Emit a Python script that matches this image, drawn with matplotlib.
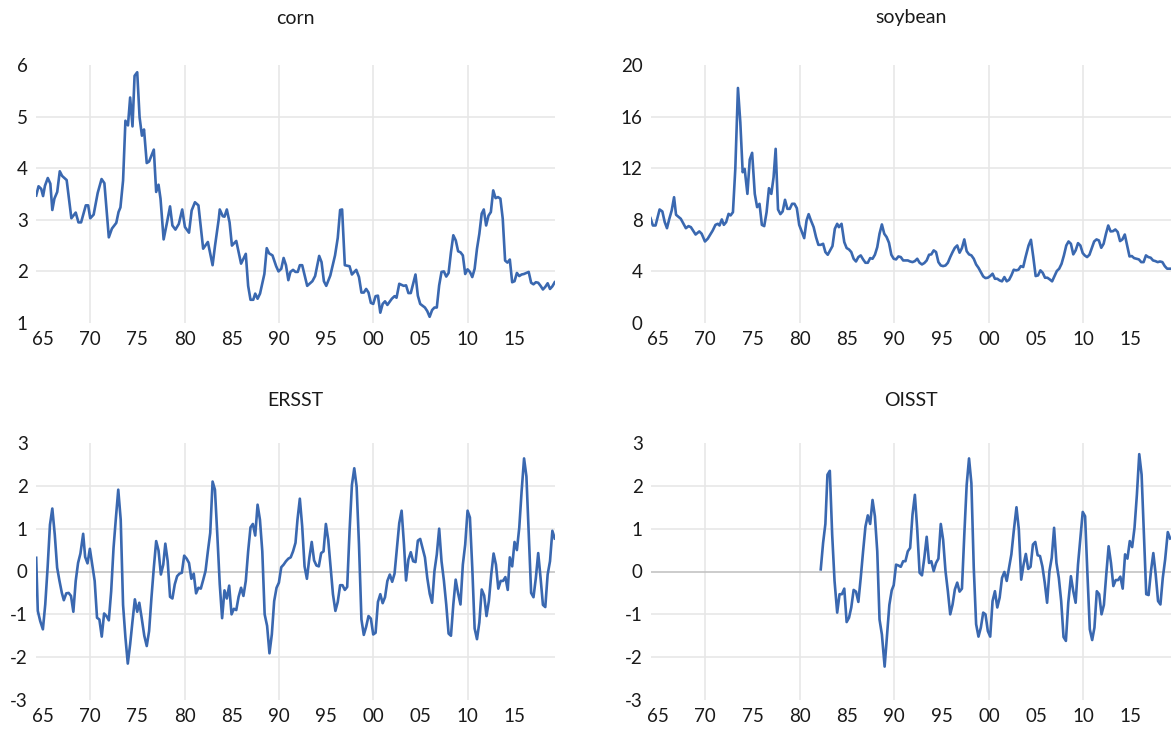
import matplotlib
matplotlib.use('Agg')
import matplotlib.pyplot as plt

plt.rcParams['font.family'] = ['Lato', 'DejaVu Sans']

# series (year, value)
corn_year = [1964.27, 1964.52, 1964.8, 1965.0, 1965.2, 1965.5, 1965.77, 1965.98, 1966.2, 1966.5,
             1966.77, 1967.02, 1967.5, 1968.0, 1968.46, 1968.75, 1969.03, 1969.53, 1969.78, 1970.0,
             1970.36, 1970.79, 1971.2, 1971.5, 1971.97, 1972.3, 1972.76, 1973.0, 1973.2, 1973.48,
             1973.73, 1974.0, 1974.23, 1974.48, 1974.7, 1974.98, 1975.23, 1975.48, 1975.7, 1975.99,
             1976.24, 1976.74, 1976.99, 1977.24, 1977.45, 1977.78, 1978.14, 1978.46, 1978.71, 1979.03,
             1979.39, 1979.75, 1980.04, 1980.47, 1980.75, 1981.1, 1981.47, 1981.97, 1982.47, 1982.97,
             1983.23, 1983.62, 1983.73, 1984.05, 1984.23, 1984.48, 1984.77, 1985.02, 1985.48, 1985.99,
             1986.49, 1986.74, 1986.99, 1987.28, 1987.49, 1987.74, 1988.0, 1988.46, 1988.71, 1988.96,
             1989.32, 1989.71, 1989.96, 1990.25, 1990.5, 1990.75, 1991.0, 1991.22, 1991.5, 1991.76,
             1992.0, 1992.22, 1992.47, 1993.0, 1993.55, 1993.84, 1994.27, 1994.52, 1994.77, 1995.02,
             1995.45, 1995.95, 1996.24, 1996.49, 1996.7, 1996.99, 1997.49, 1997.74, 1998.2, 1998.49,
             1998.75, 1999.0, 1999.25, 1999.5, 1999.75, 2000.0, 2000.25, 2000.5, 2000.75, 2001.0,
             2001.25, 2001.5, 2001.97, 2002.26, 2002.47, 2002.76, 2003.23, 2003.48, 2003.73, 2003.98,
             2004.48, 2004.73, 2004.98, 2005.48, 2005.73, 2005.98, 2006.24, 2006.49, 2006.74, 2006.99,
             2007.24, 2007.49, 2007.74, 2007.99, 2008.24, 2008.49, 2008.75, 2009.0, 2009.25, 2009.5,
             2009.75, 2010.0, 2010.25, 2010.5, 2010.75, 2011.0, 2011.25, 2011.5, 2011.72, 2011.97,
             2012.22, 2012.47, 2012.72, 2012.97, 2013.23, 2013.48, 2013.73, 2013.98, 2014.23, 2014.48,
             2014.73, 2014.98, 2015.23, 2015.48, 2015.73, 2015.98, 2016.23, 2016.48, 2016.74, 2016.99,
             2017.24, 2017.49, 2017.74, 2017.99, 2018.24, 2018.49, 2018.74, 2018.99, 2019.24]
corn_value = [3.47, 3.65, 3.60, 3.46, 3.66, 3.81, 3.70, 3.19, 3.41, 3.54,
              3.94, 3.85, 3.77, 3.03, 3.14, 2.95, 2.95, 3.28, 3.28, 3.03,
              3.10, 3.52, 3.79, 3.71, 2.66, 2.83, 2.94, 3.15, 3.24, 3.76,
              4.92, 4.83, 5.37, 4.81, 5.79, 5.86, 4.99, 4.63, 4.75, 4.10,
              4.13, 4.36, 3.54, 3.68, 3.41, 2.62, 2.95, 3.26, 2.89, 2.81,
              2.92, 3.20, 2.86, 2.75, 3.18, 3.34, 3.28, 2.44, 2.57, 2.12,
              2.50, 3.01, 3.20, 3.07, 3.06, 3.20, 2.95, 2.50, 2.59, 2.15,
              2.34, 1.72, 1.45, 1.45, 1.57, 1.47, 1.57, 1.95, 2.45, 2.35,
              2.31, 2.10, 2.00, 2.05, 2.26, 2.12, 1.83, 1.99, 2.03, 1.99,
              1.99, 2.12, 2.12, 1.72, 1.81, 1.91, 2.30, 2.18, 1.81, 1.72,
              1.92, 2.31, 2.65, 3.19, 3.20, 2.12, 2.10, 1.94, 2.03, 1.89,
              1.59, 1.59, 1.66, 1.59, 1.39, 1.37, 1.52, 1.53, 1.20, 1.37,
              1.42, 1.35, 1.47, 1.52, 1.49, 1.76, 1.72, 1.73, 1.58, 1.58,
              1.94, 1.53, 1.37, 1.30, 1.23, 1.12, 1.25, 1.30, 1.30, 1.73,
              1.99, 2.00, 1.90, 1.97, 2.37, 2.70, 2.60, 2.39, 2.37, 2.31,
              1.95, 2.04, 1.99, 1.89, 2.05, 2.44, 2.73, 3.12, 3.20, 2.89,
              3.08, 3.15, 3.57, 3.42, 3.44, 3.41, 3.02, 2.21, 2.17, 2.23,
              1.79, 1.81, 1.97, 1.91, 1.94, 1.95, 1.97, 1.99, 1.78, 1.75,
              1.79, 1.78, 1.72, 1.65, 1.70, 1.77, 1.66, 1.71, 1.79]

soy_year = [1964.2, 1964.45, 1964.73, 1965.16, 1965.45, 1965.7, 1965.94, 1966.19, 1966.44, 1966.69,
            1966.9, 1967.4, 1967.94, 1968.22, 1968.47, 1968.97, 1969.36, 1969.61, 1969.96, 1970.25,
            1970.78, 1971.07, 1971.32, 1971.5, 1971.74, 1971.96, 1972.2, 1972.46, 1972.67, 1972.92,
            1973.17, 1973.45, 1973.7, 1973.95, 1974.16, 1974.45, 1974.7, 1974.95, 1975.23, 1975.48,
            1975.73, 1975.98, 1976.23, 1976.48, 1976.73, 1976.98, 1977.22, 1977.44, 1977.69, 1977.94,
            1978.18, 1978.43, 1978.68, 1978.93, 1979.18, 1979.43, 1979.68, 1979.93, 1980.18, 1980.46,
            1980.71, 1980.93, 1981.17, 1981.46, 1981.71, 1981.96, 1982.21, 1982.46, 1982.7, 1982.95,
            1983.2, 1983.45, 1983.7, 1983.95, 1984.13, 1984.41, 1984.7, 1984.95, 1985.2, 1985.44,
            1985.69, 1985.94, 1986.19, 1986.44, 1986.69, 1986.94, 1987.19, 1987.44, 1987.69, 1987.94,
            1988.19, 1988.43, 1988.68, 1988.93, 1989.18, 1989.43, 1989.68, 1989.93, 1990.18, 1990.43,
            1990.68, 1990.93, 1991.17, 1991.42, 1991.67, 1991.92, 1992.17, 1992.42, 1992.67, 1992.92,
            1993.17, 1993.42, 1993.67, 1993.91, 1994.16, 1994.41, 1994.66, 1994.91, 1995.16, 1995.41,
            1995.66, 1995.91, 1996.16, 1996.4, 1996.65, 1996.9, 1997.15, 1997.4, 1997.65, 1997.9,
            1998.15, 1998.4, 1998.65, 1998.9, 1999.15, 1999.4, 1999.64, 1999.89, 2000.14, 2000.39,
            2000.64, 2000.89, 2001.14, 2001.39, 2001.64, 2001.89, 2002.14, 2002.38, 2002.63, 2002.88,
            2003.13, 2003.38, 2003.63, 2003.88, 2004.2, 2004.45, 2004.7, 2004.95, 2005.2, 2005.45,
            2005.69, 2005.94, 2006.19, 2006.44, 2006.69, 2006.94, 2007.19, 2007.44, 2007.69, 2007.94,
            2008.19, 2008.43, 2008.68, 2008.93, 2009.18, 2009.43, 2009.68, 2009.93, 2010.14, 2010.39,
            2010.64, 2010.89, 2011.14, 2011.39, 2011.64, 2011.89, 2012.14, 2012.39, 2012.63, 2012.88,
            2013.13, 2013.38, 2013.63, 2013.88, 2014.13, 2014.38, 2014.63, 2014.88, 2015.12, 2015.37,
            2015.62, 2015.87, 2016.12, 2016.37, 2016.62, 2016.87, 2017.12, 2017.37, 2017.61, 2017.86,
            2018.11, 2018.36, 2018.61, 2018.86, 2019.15]
soy_value = [8.13, 7.56, 7.56, 8.80, 8.65, 7.83, 7.35, 8.08, 8.72, 9.75,
             8.39, 8.08, 7.35, 7.51, 7.43, 6.86, 7.10, 6.92, 6.32, 6.53,
             7.17, 7.61, 7.69, 7.56, 8.03, 7.61, 7.82, 8.46, 8.34, 8.59,
             11.95, 18.22, 15.56, 11.69, 11.95, 10.01, 12.67, 13.19, 10.01, 8.98,
             9.24, 7.61, 7.51, 8.59, 10.45, 10.01, 11.30, 13.50, 8.80, 8.44,
             8.65, 9.55, 8.85, 8.85, 9.24, 9.24, 8.90, 7.61, 7.12, 6.58,
             7.95, 8.44, 7.95, 7.43, 6.66, 6.06, 6.06, 6.14, 5.50, 5.29,
             5.63, 5.96, 7.30, 7.69, 7.43, 7.69, 6.27, 5.81, 5.70, 5.50,
             4.98, 4.77, 5.11, 5.24, 4.93, 4.67, 4.67, 5.03, 4.98, 5.29,
             5.88, 6.92, 7.64, 6.92, 6.66, 6.22, 5.29, 4.98, 4.93, 5.16,
             5.11, 4.85, 4.85, 4.85, 4.77, 4.72, 4.80, 4.98, 4.67, 4.54,
             4.65, 4.85, 5.29, 5.32, 5.63, 5.50, 4.72, 4.46, 4.41, 4.46,
             4.67, 5.11, 5.50, 5.83, 6.01, 5.45, 5.81, 6.48, 5.57, 5.32,
             5.24, 4.98, 4.54, 4.28, 3.95, 3.61, 3.48, 3.51, 3.64, 3.82,
             3.43, 3.43, 3.30, 3.23, 3.56, 3.23, 3.35, 3.69, 4.13, 4.08,
             4.13, 4.41, 4.34, 5.11, 6.01, 6.45, 5.11, 3.64, 3.69, 4.08,
             3.90, 3.51, 3.51, 3.38, 3.23, 3.64, 4.03, 4.21, 4.59, 5.24,
             6.01, 6.32, 6.14, 5.32, 5.63, 6.19, 6.01, 5.42, 5.24, 5.11,
             5.29, 5.81, 6.32, 6.48, 6.40, 5.83, 6.14, 6.92, 7.56, 7.10,
             7.12, 7.25, 7.05, 6.35, 6.48, 6.86, 6.01, 5.16, 5.19, 5.03,
             4.98, 4.93, 4.72, 4.72, 5.24, 5.11, 5.06, 4.85, 4.80, 4.72,
             4.77, 4.72, 4.41, 4.21, 4.21]

ersst_year = [1964.27, 1964.44, 1964.7, 1964.98, 1965.23, 1965.48, 1965.73, 1965.98, 1966.24, 1966.49,
              1966.74, 1966.99, 1967.2, 1967.46, 1967.71, 1967.96, 1968.21, 1968.46, 1968.71, 1968.96,
              1969.25, 1969.46, 1969.71, 1969.96, 1970.22, 1970.47, 1970.72, 1970.97, 1971.22, 1971.47,
              1971.72, 1971.97, 1972.22, 1972.47, 1972.72, 1972.97, 1973.23, 1973.48, 1973.73, 1973.98,
              1974.23, 1974.48, 1974.73, 1974.98, 1975.2, 1975.45, 1975.73, 1975.99, 1976.24, 1976.49,
              1976.74, 1976.99, 1977.24, 1977.49, 1977.74, 1977.96, 1978.21, 1978.46, 1978.71, 1978.96,
              1979.21, 1979.46, 1979.71, 1979.96, 1980.22, 1980.47, 1980.72, 1980.97, 1981.22, 1981.47,
              1981.72, 1981.97, 1982.22, 1982.47, 1982.72, 1982.97, 1983.22, 1983.47, 1983.73, 1983.98,
              1984.23, 1984.48, 1984.73, 1984.98, 1985.23, 1985.48, 1985.73, 1985.99, 1986.24, 1986.49,
              1986.74, 1986.99, 1987.24, 1987.49, 1987.74, 1987.99, 1988.24, 1988.49, 1988.75, 1989.0,
              1989.25, 1989.5, 1989.75, 1990.0, 1990.25, 1990.5, 1990.75, 1991.0, 1991.25, 1991.5,
              1991.76, 1991.97, 1992.22, 1992.47, 1992.72, 1992.97, 1993.23, 1993.48, 1993.73, 1993.98,
              1994.23, 1994.48, 1994.73, 1994.98, 1995.23, 1995.48, 1995.73, 1995.99, 1996.24, 1996.49,
              1996.74, 1996.99, 1997.24, 1997.49, 1997.74, 1997.99, 1998.24, 1998.49, 1998.75, 1999.0,
              1999.25, 1999.5, 1999.75, 2000.0, 2000.25, 2000.5, 2000.75, 2001.0, 2001.25, 2001.5,
              2001.76, 2002.01, 2002.26, 2002.51, 2002.76, 2003.01, 2003.26, 2003.48, 2003.73, 2003.98,
              2004.23, 2004.48, 2004.73, 2004.98, 2005.23, 2005.48, 2005.73, 2005.99, 2006.24, 2006.49,
              2006.74, 2006.99, 2007.24, 2007.49, 2007.74, 2007.99, 2008.24, 2008.49, 2008.74, 2008.99,
              2009.25, 2009.5, 2009.75, 2010.0, 2010.25, 2010.5, 2010.75, 2011.0, 2011.25, 2011.5,
              2011.76, 2012.01, 2012.26, 2012.51, 2012.76, 2013.01, 2013.26, 2013.51, 2013.76, 2014.01,
              2014.26, 2014.48, 2014.73, 2014.98, 2015.23, 2015.48, 2015.73, 2015.99, 2016.24, 2016.49,
              2016.74, 2016.99, 2017.24, 2017.49, 2017.74, 2017.99, 2018.24, 2018.49, 2018.74, 2018.99,
              2019.24]
ersst_value = [0.32, -0.92, -1.16, -1.35, -0.77, 0.09, 1.09, 1.47, 0.86, 0.09,
               -0.22, -0.50, -0.67, -0.51, -0.50, -0.57, -0.94, -0.22, 0.20, 0.42,
               0.88, 0.34, 0.19, 0.53, 0.14, -0.22, -1.08, -1.12, -1.52, -0.98,
               -1.04, -1.14, -0.46, 0.55, 1.25, 1.91, 1.21, -0.78, -1.54, -2.15,
               -1.70, -1.16, -0.65, -0.94, -0.73, -1.08, -1.50, -1.74, -1.39, -0.61,
               0.09, 0.71, 0.49, -0.07, 0.16, 0.65, 0.24, -0.59, -0.63, -0.30,
               -0.11, -0.05, -0.03, 0.37, 0.30, 0.20, -0.17, -0.05, -0.51, -0.38,
               -0.40, -0.20, 0.01, 0.47, 0.90, 2.10, 1.91, 0.86, -0.30, -1.09,
               -0.44, -0.63, -0.33, -1.00, -0.87, -0.90, -0.59, -0.38, -0.57, -0.22,
               0.47, 1.03, 1.11, 0.84, 1.56, 1.21, 0.47, -1.00, -1.27, -1.91,
               -1.47, -0.69, -0.38, -0.26, 0.10, 0.16, 0.24, 0.30, 0.33, 0.47,
               0.67, 1.21, 1.70, 1.05, 0.12, -0.17, 0.32, 0.69, 0.26, 0.14,
               0.12, 0.43, 0.47, 1.11, 0.74, 0.09, -0.53, -0.92, -0.71, -0.32,
               -0.32, -0.43, -0.36, 0.94, 2.02, 2.41, 1.98, 0.63, -1.12, -1.48,
               -1.29, -1.04, -1.10, -1.47, -1.43, -0.71, -0.53, -0.74, -0.60, -0.22,
               -0.07, -0.24, -0.05, 0.55, 1.13, 1.42, 0.63, -0.21, 0.28, 0.45,
               0.24, 0.22, 0.72, 0.76, 0.55, 0.33, -0.15, -0.52, -0.73, 0.01,
               0.40, 1.00, 0.24, -0.21, -0.77, -1.45, -1.50, -0.77, -0.19, -0.50,
               -0.77, 0.16, 0.63, 1.42, 1.26, 0.09, -1.33, -1.58, -1.19, -0.42,
               -0.56, -1.04, -0.69, -0.07, 0.42, 0.16, -0.40, -0.22, -0.22, -0.13,
               -0.43, 0.33, 0.12, 0.69, 0.50, 1.02, 1.87, 2.64, 2.22, 0.86,
               -0.50, -0.60, -0.15, 0.43, -0.15, -0.78, -0.83, -0.07, 0.24, 0.95,
               0.77]

oisst_year = [1982.21, 1982.46, 1982.7, 1982.92, 1983.17, 1983.42, 1983.67, 1983.95, 1984.2, 1984.45,
              1984.7, 1984.95, 1985.2, 1985.44, 1985.69, 1985.94, 1986.19, 1986.44, 1986.69, 1986.94,
              1987.19, 1987.44, 1987.69, 1987.94, 1988.19, 1988.43, 1988.68, 1988.97, 1989.22, 1989.47,
              1989.72, 1989.93, 1990.18, 1990.43, 1990.68, 1990.93, 1991.17, 1991.42, 1991.67, 1991.92,
              1992.17, 1992.42, 1992.67, 1992.92, 1993.17, 1993.42, 1993.67, 1993.91, 1994.16, 1994.41,
              1994.66, 1994.91, 1995.16, 1995.41, 1995.66, 1995.91, 1996.16, 1996.4, 1996.65, 1996.9,
              1997.15, 1997.4, 1997.65, 1997.9, 1998.15, 1998.4, 1998.65, 1998.9, 1999.15, 1999.4,
              1999.64, 1999.89, 2000.14, 2000.39, 2000.64, 2000.89, 2001.14, 2001.39, 2001.64, 2001.89,
              2002.14, 2002.38, 2002.63, 2002.92, 2003.17, 2003.42, 2003.67, 2003.91, 2004.16, 2004.41,
              2004.66, 2004.91, 2005.16, 2005.41, 2005.66, 2005.91, 2006.16, 2006.41, 2006.65, 2006.9,
              2007.15, 2007.4, 2007.65, 2007.9, 2008.15, 2008.4, 2008.68, 2008.93, 2009.18, 2009.43,
              2009.68, 2009.93, 2010.18, 2010.43, 2010.68, 2010.93, 2011.17, 2011.42, 2011.67, 2011.92,
              2012.17, 2012.42, 2012.67, 2012.92, 2013.17, 2013.42, 2013.67, 2013.91, 2014.16, 2014.41,
              2014.66, 2014.91, 2015.16, 2015.41, 2015.66, 2015.91, 2016.16, 2016.41, 2016.65, 2016.9,
              2017.15, 2017.4, 2017.65, 2017.9, 2018.15, 2018.4, 2018.65, 2018.93, 2019.18]
oisst_value = [0.05, 0.67, 1.11, 2.26, 2.35, 0.86, -0.22, -0.96, -0.53, -0.53,
               -0.40, -1.18, -1.08, -0.84, -0.43, -0.47, -0.71, -0.15, 0.47, 1.05,
               1.31, 1.11, 1.67, 1.29, 0.47, -1.12, -1.47, -2.22, -1.50, -0.78,
               -0.44, -0.32, 0.16, 0.14, 0.11, 0.24, 0.24, 0.47, 0.55, 1.33,
               1.79, 0.98, -0.03, -0.09, 0.32, 0.81, 0.20, 0.24, 0.01, 0.20,
               0.30, 1.11, 0.74, 0.01, -0.46, -1.00, -0.77, -0.42, -0.26, -0.47,
               -0.40, 0.86, 2.02, 2.64, 2.06, 0.09, -1.23, -1.52, -1.31, -0.96,
               -1.00, -1.39, -1.52, -0.69, -0.46, -0.84, -0.61, -0.15, -0.01, -0.22,
               0.09, 0.40, 0.94, 1.50, 0.98, -0.19, 0.16, 0.41, 0.06, 0.11,
               0.63, 0.69, 0.38, 0.36, 0.12, -0.26, -0.73, 0.01, 0.32, 1.02,
               0.20, -0.15, -0.69, -1.53, -1.62, -0.73, -0.11, -0.46, -0.73, 0.16,
               0.78, 1.39, 1.29, -0.07, -1.35, -1.60, -1.31, -0.46, -0.53, -1.00,
               -0.78, -0.07, 0.59, 0.20, -0.34, -0.20, -0.20, -0.12, -0.40, 0.40,
               0.30, 0.71, 0.57, 1.02, 1.79, 2.74, 2.26, 0.86, -0.53, -0.55,
               0.01, 0.43, -0.07, -0.69, -0.77, -0.15, 0.28, 0.92, 0.77]

tick_years = [1965, 1970, 1975, 1980, 1985, 1990, 1995, 2000, 2005, 2010, 2015]
tick_labels = ['65', '70', '75', '80', '85', '90', '95', '00', '05', '10', '15']
grid_years = [1970, 1980, 1990, 2000, 2010]

LINE = '#3A68B0'
GRID = '#E6E6E6'
W, H = 1171, 731


def px_rect(x0, y0, x1, y1):
    return [x0 / W, 1 - y1 / H, (x1 - x0) / W, (y1 - y0) / H]


def draw_panel(rect, xs, ys, title, yticks, zero_line=False):
    ax = fig.add_axes(px_rect(*rect))
    ax.set_xlim(1964.25, 2019.27)
    ax.set_ylim(yticks[0], yticks[-1])
    for y in yticks[1:-1]:
        if zero_line and y == 0:
            continue
        ax.axhline(y, color=GRID, lw=1.1, zorder=1)
    for x in grid_years:
        ax.axvline(x, color=GRID, lw=1.1, zorder=1)
    if zero_line:
        ax.axhline(0, color='#BFBFBF', lw=1.1, zorder=2)
    ax.plot(xs, ys, color=LINE, lw=1.9, zorder=3, solid_joinstyle='round')
    ax.set_xticks(tick_years)
    ax.set_xticklabels(tick_labels)
    ax.set_yticks(yticks)
    ax.set_yticklabels([str(v) for v in yticks])
    ax.tick_params(length=0, labelsize=13.5, colors='#1a1a1a')
    ax.tick_params(axis='x', pad=6)
    ax.tick_params(axis='y', pad=6)
    for s in ax.spines.values():
        s.set_visible(False)
    cx = (rect[0] + rect[2]) / 2
    ty = 18 if rect[1] < 200 else 400
    fig.text(cx / W, 1 - ty / H, title, ha='center', va='center',
             fontsize=14, color='#1a1a1a')
    return ax


fig = plt.figure(figsize=(W / 100, H / 100), dpi=100)

draw_panel((36, 65, 555, 323), corn_year, corn_value, 'corn', [1, 2, 3, 4, 5, 6])
draw_panel((651, 65, 1171, 323), soy_year, soy_value, 'soybean', [0, 4, 8, 12, 16, 20])
draw_panel((36, 443, 555, 700), ersst_year, ersst_value, 'ERSST',
           [-3, -2, -1, 0, 1, 2, 3], zero_line=True)
draw_panel((651, 443, 1171, 700), oisst_year, oisst_value, 'OISST',
           [-3, -2, -1, 0, 1, 2, 3], zero_line=True)

fig.savefig('out.png', dpi=100)
